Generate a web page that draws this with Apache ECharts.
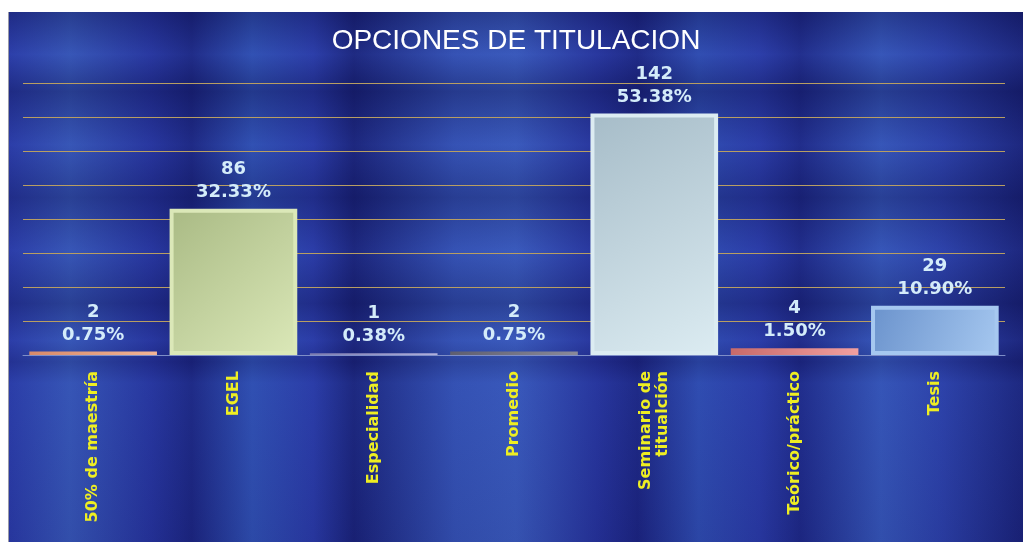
<!DOCTYPE html>
<html>
<head>
<meta charset="utf-8">
<script src="https://cdn.jsdelivr.net/npm/echarts@6/dist/echarts.min.js"></script>
<style>
  html, body { margin: 0; padding: 0; background: #ffffff; }
  #chart {
    position: absolute; left: 8px; top: 12px; width: 1014px; height: 530px;
    border-left: 1px solid #9a9aa8;
    background:
      linear-gradient(180deg, rgba(10,14,70,0.35) 0%, rgba(60,90,190,0.15) 8%, rgba(10,14,70,0.35) 15%, rgba(60,90,190,0.1) 25%, rgba(10,14,70,0.3) 35%, rgba(60,90,190,0.1) 45%, rgba(10,14,70,0.3) 55%, rgba(60,90,190,0.1) 62%, rgba(10,14,70,0.2) 66%, rgba(50,80,180,0.15) 70%, rgba(10,14,70,0.1) 100%),
      linear-gradient(90deg, #2a3aa6 0%, #3756b6 6%, #26339c 14%, #1c2580 18%, #3050b2 24%, #2a3aa6 30%, #1a2278 34%, #3552b4 44%, #3a5abc 50%, #26329a 58%, #1c2480 62%, #2f4cb0 68%, #2a3aa6 74%, #1e2886 78%, #3656b8 86%, #2c40a8 92%, #1a2278 100%);
  }
</style>
</head>
<body>
<div id="chart"></div>
<script>
const categories = ['50% de maestría', 'EGEL', 'Especialidad', 'Promedio', 'Seminario de\ntitualción', 'Teórico/práctico', 'Tesis'];
const counts = [2, 86, 1, 2, 142, 4, 29];
const percents = ['0.75%', '32.33%', '0.38%', '0.75%', '53.38%', '1.50%', '10.90%'];
const barColors = [
  ['#f2b496', '#d88a6a'],
  ['#dbe8b8', '#a9ba84'],
  ['#b0b0dc', '#7c7cb0'],
  ['#8a8a9a', '#5e5e70'],
  ['#dcecf2', '#a6bcc8'],
  ['#f2a0a0', '#c86a6a'],
  ['#a6c8f0', '#6a92cc']
];

const chart = echarts.init(document.getElementById('chart'));

const option = {
  backgroundColor: 'transparent',
  title: {
    text: 'OPCIONES DE TITULACION',
    left: 'center',
    top: 10,
    textStyle: {
      color: '#ffffff',
      fontFamily: 'Liberation Sans, Arial',
      fontWeight: 'normal',
      fontSize: 28
    }
  },
  grid: { left: 14, right: 18, top: 71, bottom: 187 },
  xAxis: {
    type: 'category',
    data: categories,
    axisTick: { show: false },
    axisLine: { lineStyle: { color: '#7e8ec8', width: 1 } },
    axisLabel: {
      rotate: 90,
      interval: 0,
      margin: 16,
      color: '#eeee22',
      fontFamily: 'DejaVu Sans, Verdana',
      fontWeight: 'bold',
      fontSize: 16,
      lineHeight: 17
    }
  },
  yAxis: {
    type: 'value',
    min: 0,
    max: 160,
    interval: 20,
    axisLabel: { show: false },
    axisLine: { show: false },
    axisTick: { show: false },
    splitLine: { lineStyle: { color: '#b89e62', width: 1 } }
  },
  series: [{
    type: 'bar',
    barCategoryGap: '9%',
    data: counts.map((v, i) => ({
      value: v,
      itemStyle: {
        color: new echarts.graphic.LinearGradient(0, 0, 1, 1, [
          { offset: 0, color: barColors[i][1] },
          { offset: 1, color: barColors[i][0] }
        ]),
        borderColor: barColors[i][0],
        borderWidth: v > 10 ? 4 : 0
      }
    })),
    label: {
      show: true,
      position: 'top',
      distance: 5,
      formatter: p => p.value + '\n' + percents[p.dataIndex],
      color: '#d4ecfa',
      fontFamily: 'DejaVu Sans, Verdana',
      fontWeight: 'bold',
      fontSize: 18,
      lineHeight: 23
    }
  }]
};

chart.setOption(option);
</script>
</body>
</html>
